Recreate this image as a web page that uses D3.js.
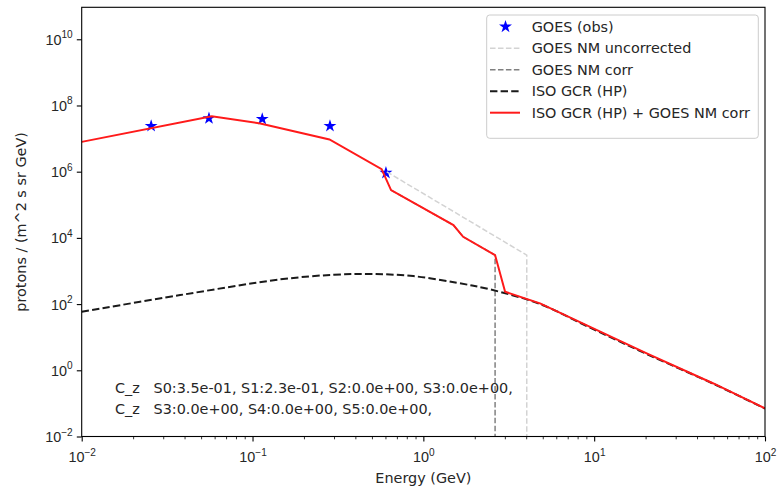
<!DOCTYPE html>
<html>
<head>
<meta charset="utf-8">
<script src="https://cdn.jsdelivr.net/npm/d3@7"></script>
<style>
  html, body { margin: 0; padding: 0; background: #fff; }
  svg { display: block; font-family: "DejaVu Sans", sans-serif; }
</style>
</head>
<body>
<div id="chart"></div>
<script>
// GOES observed points
const obsEnergy = [0.0255, 0.0556, 0.114, 0.284, 0.604];
const obsFlux = [2.4e7, 4.1e7, 3.9e7, 2.4e7, 9.2e5];

// GOES NM uncorrected (ends with a drop to zero)
const uncorrEnergy = [0.611, 4.03, 4.03];
const uncorrFlux = [9.9e5, 3.02e3, 1e-8];

// GOES NM corr
const corrEnergy = [0.647, 1.50, 1.71, 2.63, 2.63];
const corrFlux = [2.77e5, 2.43e4, 1.08e4, 3.02e3, 1e-8];

// ISO GCR (HP)
const gcrEnergy = [0.01, 0.0377, 0.145, 0.30, 0.50, 0.873, 1.57, 2.46, 4.82, 9.46, 20.3, 49.9, 100];
const gcrFlux = [58.6, 187, 557, 770, 810, 700, 440, 278, 100, 19.5, 3.1, 0.39, 0.070];

// ISO GCR (HP) + GOES NM corr
const sumEnergy = [0.01, 0.0577, 0.111, 0.282, 0.570, 0.647, 1.50, 1.71, 2.63, 3.01, 4.82, 9.46, 20.3, 49.9, 100];
const sumFlux = [7.96e6, 4.75e7, 2.86e7, 9.4e6, 1.19e6, 2.77e5, 2.43e4, 1.08e4, 3.02e3, 236, 105, 20.6, 3.25, 0.40, 0.071];

const xTicks = [1e-2, 1e-1, 1e0, 1e1, 1e2];
const yTicks = [1e-2, 1e0, 1e2, 1e4, 1e6, 1e8, 1e10];

const legendLabels = ["GOES (obs)", "GOES NM uncorrected", "GOES NM corr", "ISO GCR (HP)", "ISO GCR (HP) + GOES NM corr"];

const noteLines = [
  "C_z   S0:3.5e-01, S1:2.3e-01, S2:0.0e+00, S3:0.0e+00,",
  "C_z   S3:0.0e+00, S4:0.0e+00, S5:0.0e+00,"
];

const W = 778, H = 487;
const margin = { top: 7.3, right: 13, bottom: 50.5, left: 81.7 };
const w = W - margin.left - margin.right;
const h = H - margin.top - margin.bottom;
const fs = 14.4;

const svg = d3.select("#chart").append("svg")
  .attr("width", W).attr("height", H);

const g = svg.append("g").attr("transform", `translate(${margin.left},${margin.top})`);

const x = d3.scaleLog().domain([1e-2, 1e2]).range([0, w]);
const y = d3.scaleLog().domain([1e-2, Math.pow(10, 10.966)]).range([h, 0]);

g.append("clipPath").attr("id", "clip")
  .append("rect").attr("width", w).attr("height", h);

const plot = g.append("g").attr("clip-path", "url(#clip)");

const zip = (xs, ys) => xs.map((e, i) => [e, ys[i]]);

const line = d3.line().x(d => x(d[0])).y(d => y(d[1]));
const smooth = d3.line().x(d => x(d[0])).y(d => y(d[1])).curve(d3.curveCatmullRom.alpha(0.5));

// stars
plot.selectAll(".obs")
  .data(zip(obsEnergy, obsFlux))
  .enter().append("path")
  .attr("class", "obs")
  .attr("transform", d => `translate(${x(d[0])},${y(d[1])})`)
  .attr("d", d3.symbol(d3.symbolStar, 52))
  .attr("fill", "#0000ff");

plot.append("path")
  .datum(zip(uncorrEnergy, uncorrFlux))
  .attr("d", line)
  .attr("fill", "none")
  .attr("stroke", "#d3d3d3")
  .attr("stroke-width", 1.5)
  .attr("stroke-dasharray", "5.55,2.4");

plot.append("path")
  .datum(zip(corrEnergy, corrFlux))
  .attr("d", line)
  .attr("fill", "none")
  .attr("stroke", "#808080")
  .attr("stroke-width", 1.5)
  .attr("stroke-dasharray", "5.55,2.4");

plot.append("path")
  .datum(zip(gcrEnergy, gcrFlux))
  .attr("d", smooth)
  .attr("fill", "none")
  .attr("stroke", "#1a1a1a")
  .attr("stroke-width", 2)
  .attr("stroke-dasharray", "7.4,3.2");

plot.append("path")
  .datum(zip(sumEnergy, sumFlux))
  .attr("d", line)
  .attr("fill", "none")
  .attr("stroke", "#ff1a1a")
  .attr("stroke-width", 2);

// note text
g.append("g").selectAll("text")
  .data(noteLines)
  .enter().append("text")
  .attr("x", 115 - margin.left)
  .attr("y", (d, i) => 393.5 - margin.top + i * 20.7)
  .attr("font-size", fs)
  .attr("fill", "#262626")
  .style("white-space", "pre")
  .text(d => d);

// axes
const minorX = [];
for (let k = -2; k < 2; k++) for (let m = 2; m < 10; m++) minorX.push(m * Math.pow(10, k));

g.append("g")
  .attr("transform", `translate(0,${h})`)
  .call(d3.axisBottom(x).tickValues(minorX).tickSize(2.8).tickFormat(""))
  .call(a => a.select(".domain").remove())
  .selectAll("line").attr("stroke-width", 0.8);

const xAxis = g.append("g")
  .attr("transform", `translate(0,${h})`)
  .call(d3.axisBottom(x).tickValues(xTicks).tickSize(4.9).tickFormat(""));
xAxis.select(".domain").remove();
xAxis.selectAll("line").attr("stroke-width", 1.1);

const yAxis = g.append("g")
  .call(d3.axisLeft(y).tickValues(yTicks).tickSize(4.9).tickFormat(""));
yAxis.select(".domain").remove();
yAxis.selectAll("line").attr("stroke-width", 1.1);

const expLabel = (sel, v) => {
  const e = Math.round(Math.log10(v));
  sel.append("tspan").text("10");
  sel.append("tspan").attr("font-size", fs * 0.7).attr("dy", -6.5)
    .text(e < 0 ? "\u2212" + (-e) : String(e));
};

xAxis.selectAll(".tick").append("text")
  .attr("y", 462 - margin.top - h)
  .attr("fill", "#262626")
  .attr("font-size", fs)
  .attr("text-anchor", "middle")
  .each(function(d) { expLabel(d3.select(this), d); });

yAxis.selectAll(".tick").append("text")
  .attr("x", -9)
  .attr("dy", 5)
  .attr("fill", "#262626")
  .attr("font-size", fs)
  .attr("text-anchor", "end")
  .each(function(d) { expLabel(d3.select(this), d); });

g.append("rect")
  .attr("width", w).attr("height", h)
  .attr("fill", "none").attr("stroke", "#000").attr("stroke-width", 1.1);

// axis labels
svg.append("text")
  .attr("x", margin.left + w / 2).attr("y", 483)
  .attr("text-anchor", "middle")
  .attr("font-size", fs).attr("fill", "#262626")
  .text("Energy (GeV)");

svg.append("text")
  .attr("transform", `translate(26,${margin.top + h / 2}) rotate(-90)`)
  .attr("text-anchor", "middle")
  .attr("font-size", fs).attr("fill", "#262626")
  .text("protons / (m^2 s sr GeV)");

// legend
const lg = svg.append("g");
lg.append("rect")
  .attr("x", 486.7).attr("y", 15).attr("width", 271.6).attr("height", 123.3)
  .attr("rx", 3)
  .attr("fill", "#fff").attr("fill-opacity", 0.8)
  .attr("stroke", "#cccccc").attr("stroke-width", 1);

const legendStyles = [
  { kind: "star", color: "#0000ff" },
  { kind: "line", color: "#d3d3d3", dash: "5.55,2.4", width: 1.5 },
  { kind: "line", color: "#808080", dash: "5.55,2.4", width: 1.5 },
  { kind: "line", color: "#1a1a1a", dash: "7.4,3.2", width: 2 },
  { kind: "line", color: "#ff1a1a", dash: null, width: 2 }
];

legendLabels.forEach((label, i) => {
  const cy = 26.7 + i * 21.5;
  const st = legendStyles[i];
  if (st.kind === "star") {
    lg.append("path")
      .attr("transform", `translate(505.5,${cy})`)
      .attr("d", d3.symbol(d3.symbolStar, 52))
      .attr("fill", st.color);
  } else {
    lg.append("line")
      .attr("x1", 490).attr("x2", 520).attr("y1", cy).attr("y2", cy)
      .attr("stroke", st.color).attr("stroke-width", st.width)
      .attr("stroke-dasharray", st.dash);
  }
  lg.append("text")
    .attr("x", 531.7).attr("y", cy + 5)
    .attr("font-size", fs).attr("fill", "#262626")
    .text(label);
});
</script>
</body>
</html>
